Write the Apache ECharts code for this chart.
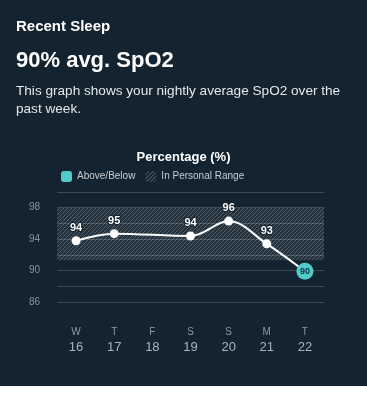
<!DOCTYPE html>
<html>
<head>
<meta charset="utf-8">
<script src="https://cdn.jsdelivr.net/npm/echarts@6/dist/echarts.min.js"></script>
<style>
  html, body { margin: 0; padding: 0; background: #ffffff; width: 367px; height: 400px; overflow: hidden; }
  #wrap { position: absolute; left: 0; top: 0; width: 367px; height: 386px; background: #13232f; }
  #chart { position: absolute; left: 0; top: 0; width: 367px; height: 386px; }
  .hdr { position: absolute; left: 16px; color: #ffffff; font-family: "Liberation Sans", Arial, sans-serif; white-space: nowrap; }
  #h1 { top: 17px; font-size: 15px; font-weight: 600; }
  #h2 { top: 47px; font-size: 22px; font-weight: 600; }
  #h3 { top: 82px; font-size: 13.6px; line-height: 17.5px; color: #e3e7ea; }
</style>
</head>
<body>
<div id="wrap">
  <div id="chart"></div>
  <div class="hdr" id="h1">Recent Sleep</div>
  <div class="hdr" id="h2">90% avg. SpO2</div>
  <div class="hdr" id="h3">This graph shows your nightly average SpO2 over the<br>past week.</div>
</div>
<script>
// ---- data ----
const dayLetters = ['W', 'T', 'F', 'S', 'S', 'M', 'T'];
const dayNumbers = ['16', '17', '18', '19', '20', '21', '22'];
const spo2Values = [93.8, 94.7, null, 94.4, 96.3, 93.4, 89.9];
const spo2Labels = ['94', '95', '', '94', '96', '93', '90'];
const outOfRange = [false, false, false, false, false, false, true];
const personalRange = [91.3, 98];
const yTickLabels = [86, 90, 94, 98];
const legendNames = ['Above/Below', 'In Personal Range'];

// ---- hatch pattern ----
function makeHatch(bg, line) {
  const c = document.createElement('canvas');
  c.width = 4; c.height = 4;
  const ctx = c.getContext('2d');
  ctx.fillStyle = bg; ctx.fillRect(0, 0, 4, 4);
  ctx.strokeStyle = line; ctx.lineWidth = 1;
  ctx.beginPath();
  ctx.moveTo(0, 4); ctx.lineTo(4, 0);
  ctx.moveTo(-1, 1); ctx.lineTo(1, -1);
  ctx.moveTo(3, 5); ctx.lineTo(5, 3);
  ctx.stroke();
  return { image: c, repeat: 'repeat' };
}
const hatchFill = makeHatch('rgba(255,255,255,0.07)', 'rgba(255,255,255,0.22)');
const hatchIcon = makeHatch('rgba(255,255,255,0.0)', 'rgba(255,255,255,0.35)');

const teal = '#4fcbc8';
const categories = dayLetters.map((d, i) => d + '\n' + dayNumbers[i]);

const lineData = spo2Values.map((v, i) => {
  if (outOfRange[i]) {
    return {
      value: v,
      symbolSize: 17,
      itemStyle: { color: teal, borderColor: teal, borderWidth: 0 },
      label: { show: true, position: 'inside', formatter: spo2Labels[i], color: '#123040', fontSize: 9, fontWeight: 'bold', textBorderWidth: 0 }
    };
  }
  return { value: v };
});

const chart = echarts.init(document.getElementById('chart'), null, { renderer: 'canvas' });
chart.setOption({
  animation: false,
  backgroundColor: 'transparent',
  textStyle: { fontFamily: '"Liberation Sans", Arial, sans-serif' },
  title: {
    text: 'Percentage (%)',
    left: 'center',
    top: 146,
    textStyle: { color: '#ffffff', fontSize: 13, fontWeight: 'bold', fontFamily: '"Liberation Sans", Arial, sans-serif' }
  },
  legend: {
    left: 56,
    top: 166,
    itemWidth: 11,
    itemHeight: 11,
    itemGap: 10,
    icon: 'roundRect',
    textStyle: { color: '#c8ced2', fontSize: 10 },
    data: [
      { name: legendNames[0], itemStyle: { color: teal } },
      { name: legendNames[1], itemStyle: { color: hatchIcon } }
    ]
  },
  grid: { left: 57, right: 43, top: 192, bottom: 84 },
  xAxis: {
    type: 'category',
    data: categories,
    boundaryGap: true,
    axisLine: { show: false },
    axisTick: { show: false },
    axisLabel: {
      interval: 0,
      margin: 23,
      formatter: (v) => { const p = v.split('\n'); return '{a|' + p[0] + '}\n{b|' + p[1] + '}'; },
      rich: {
        a: { fontSize: 10, lineHeight: 14, color: '#8f999f' },
        b: { fontSize: 13, lineHeight: 16, color: '#aab3b8' }
      }
    }
  },
  yAxis: {
    type: 'value',
    min: 86,
    max: 100,
    interval: 2,
    axisLine: { show: false },
    axisTick: { show: false },
    splitLine: { lineStyle: { color: '#3a4a54', width: 1 } },
    axisLabel: {
      margin: 17,
      color: '#8a949b',
      fontSize: 10,
      formatter: (v) => yTickLabels.indexOf(v) >= 0 ? String(v) : ''
    }
  },
  series: [
    {
      name: 'SpO2',
      type: 'line',
      data: lineData,
      smooth: 0.35,
      connectNulls: true,
      symbol: 'circle',
      symbolSize: 9,
      showAllSymbol: true,
      z: 3,
      lineStyle: { color: '#ffffff', width: 2 },
      itemStyle: { color: '#ffffff' },
      label: {
        show: true,
        position: 'top',
        distance: 3,
        color: '#ffffff',
        fontSize: 11,
        fontWeight: 'bold',
        textBorderColor: '#13232f',
        textBorderWidth: 2,
        formatter: (p) => spo2Labels[p.dataIndex]
      },
      markArea: {
        silent: true,
        itemStyle: { color: hatchFill },
        data: [[{ yAxis: personalRange[0] }, { yAxis: personalRange[1] }]]
      }
    },
    { name: legendNames[0], type: 'bar', data: [], itemStyle: { color: teal } },
    { name: legendNames[1], type: 'bar', data: [], itemStyle: { color: hatchIcon } }
  ]
});
</script>
</body>
</html>
